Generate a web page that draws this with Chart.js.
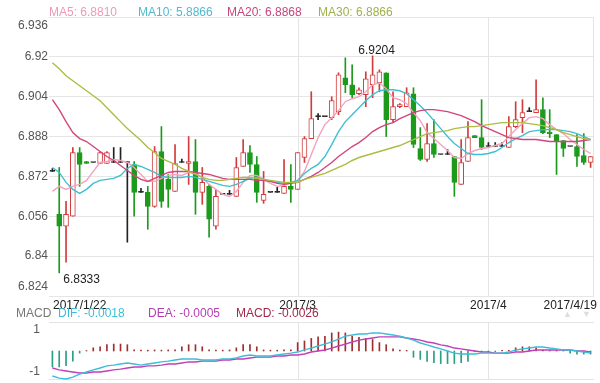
<!DOCTYPE html>
<html>
<head>
<meta charset="utf-8">
<title>K线 MA MACD</title>
<script src="https://cdn.jsdelivr.net/npm/chart.js@4"></script>
<style>
  body { margin: 0; background: #fff; font-family: "Liberation Sans", Arial, sans-serif; }
  #wrap { position: relative; width: 600px; height: 383px; overflow: hidden; background: #fff; }
  canvas { position: absolute; left: 0; }
  .lg { position: absolute; font-size: 12px; line-height: 14px; white-space: nowrap; }
</style>
</head>
<body>
<div id="wrap">
  <canvas id="kChart" width="600" height="312" style="top:0"></canvas>
  <canvas id="macdChart" width="600" height="71" style="top:312px"></canvas>

  <div class="lg" style="left:49px;top:5px;color:#ee9ab7">MA5: 6.8810</div>
  <div class="lg" style="left:138px;top:5px;color:#4fbad0">MA10: 5.8866</div>
  <div class="lg" style="left:227px;top:5px;color:#c8457e">MA20: 6.8868</div>
  <div class="lg" style="left:318px;top:5px;color:#9db24a">MA30: 6.8866</div>

  <div class="lg" style="left:16px;top:306px;color:#777">MACD</div>
  <div class="lg" style="left:58px;top:306px;color:#3dbcd6">DIF: -0.0018</div>
  <div class="lg" style="left:148px;top:306px;color:#b43eb0">DEA: -0.0005</div>
  <div class="lg" style="left:236px;top:306px;color:#a3284a">MACD: -0.0026</div>
  <div class="lg" style="left:563px;top:307px;color:#ddd;font-size:9px">▲</div>
  <div class="lg" style="left:582px;top:307px;color:#ddd;font-size:9px">▼</div>
</div>

<script>
const FONT = '"Liberation Sans", Arial, sans-serif';

// candles, one per day
const opens = [6.874,6.8568,6.852,6.856,6.8816,6.878,6.8776,6.8772,6.8772,6.8776,
  6.8776,6.8776,6.8768,6.8656,6.8656,6.86,6.882,6.8708,6.866,6.8776,
  6.8772,6.878,6.8656,6.868,6.852,6.8648,6.8648,6.864,6.876,6.8816,
  6.8768,6.8624,6.8656,6.8656,6.8652,6.868,6.8668,6.8796,6.8872,6.896,
  6.896,6.8956,6.898,6.9116,6.9088,6.9052,6.9048,6.9088,6.9096,6.9136,
  6.8948,6.9,6.9,6.9052,6.8832,6.8788,6.8852,6.8808,6.8808,6.88,
  6.8688,6.878,6.8884,6.8876,6.884,6.884,6.884,6.8836,6.892,6.8956,
  6.898,6.8976,6.8988,6.8898,6.8888,6.8864,6.884,6.884,6.8804,6.8776];
const highs = [6.8752,6.8756,6.862,6.8836,6.8836,6.878,6.8776,6.882,6.882,6.8836,
  6.8836,6.878,6.878,6.8672,6.868,6.884,6.892,6.8728,6.8848,6.879,
  6.888,6.8868,6.8756,6.8688,6.8668,6.8648,6.8664,6.8796,6.8868,6.8844,
  6.88,6.874,6.8656,6.8676,6.8788,6.8768,6.8816,6.888,6.906,6.8972,
  6.896,6.904,6.9136,6.9196,6.9168,6.9076,6.914,6.9204,6.9148,6.9136,
  6.906,6.9012,6.9076,6.9076,6.8916,6.8932,6.8948,6.8808,6.8828,6.88,
  6.8868,6.894,6.8884,6.9028,6.8856,6.8856,6.8856,6.896,6.902,6.9028,
  6.8996,6.9108,6.9036,6.8988,6.8888,6.8864,6.884,6.8888,6.8892,6.88];
const lows = [6.874,6.8333,6.8376,6.856,6.868,6.8772,6.8776,6.8772,6.8772,6.8776,
  6.8776,6.8456,6.856,6.8656,6.8508,6.8596,6.8596,6.8596,6.866,6.8776,
  6.8688,6.8568,6.8608,6.8476,6.8508,6.8648,6.8648,6.864,6.876,6.8736,
  6.8616,6.8612,6.8656,6.8656,6.8652,6.8616,6.8668,6.8776,6.8872,6.8948,
  6.896,6.8948,6.8968,6.9056,6.9036,6.9048,6.9,6.9036,6.906,6.888,
  6.8936,6.8996,6.9,6.8836,6.8784,6.878,6.8796,6.8808,6.8808,6.864,
  6.8688,6.878,6.8876,6.8828,6.884,6.884,6.884,6.8836,6.8916,6.8896,
  6.898,6.8976,6.8892,6.8876,6.8728,6.88,6.884,6.876,6.8768,6.8756];
const closes = [6.874,6.852,6.8568,6.8816,6.8768,6.8772,6.8776,6.8816,6.8816,6.8776,
  6.8776,6.8776,6.8656,6.8656,6.86,6.882,6.862,6.8668,6.8772,6.8776,
  6.878,6.8656,6.8696,6.8548,6.864,6.8648,6.8648,6.8756,6.8816,6.8768,
  6.8656,6.8648,6.8656,6.8656,6.868,6.8668,6.8816,6.8872,6.8952,6.896,
  6.896,6.9024,6.9128,6.9088,6.9048,6.9068,6.9112,6.9128,6.914,6.8948,
  6.9,6.9008,6.9056,6.8848,6.8788,6.8852,6.8808,6.8808,6.8808,6.8696,
  6.8776,6.8876,6.8876,6.8836,6.884,6.884,6.884,6.892,6.8948,6.8976,
  6.898,6.8988,6.8896,6.8892,6.886,6.8832,6.884,6.88,6.8776,6.88];

// moving averages
const ma5 = [6.866,6.868,6.8668,6.868,6.8688,6.8704,6.874,6.8776,6.878,6.8788,
  6.8784,6.8776,6.8756,6.8728,6.87,6.87,6.8712,6.8724,6.8728,6.8724,
  6.8736,6.8732,6.8716,6.8688,6.8668,6.8648,6.864,6.866,6.8696,6.8724,
  6.8724,6.8708,6.8692,6.868,6.8684,6.8696,6.8704,6.874,6.8808,6.8876,
  6.8928,6.8956,6.8984,6.902,6.9032,6.904,6.906,6.9088,6.9096,6.9072,
  6.9036,6.9028,6.9012,6.8976,6.8944,6.8896,6.8872,6.8848,6.8824,6.8796,
  6.8792,6.8812,6.8824,6.8832,6.8836,6.8844,6.8852,6.888,6.8908,6.8932,
  6.8956,6.896,6.8952,6.8928,6.8908,6.8892,6.8868,6.8848,6.8828,6.8812];
const ma10 = [6.8756,6.8736,6.8696,6.8668,6.8652,6.8668,6.8692,6.8704,6.8708,6.8712,
  6.8724,6.8752,6.8768,6.876,6.8748,6.8736,6.872,6.8716,6.8716,6.8716,
  6.872,6.8716,6.8708,6.87,6.8692,6.8684,6.868,6.8688,6.87,6.8712,
  6.8716,6.8708,6.87,6.8696,6.8692,6.8696,6.8704,6.8732,6.8752,6.8768,
  6.88,6.8848,6.89,6.894,6.8968,6.8996,6.9024,6.9048,6.9064,6.9068,
  6.9068,6.9064,6.9052,6.9028,6.9004,6.8976,6.8944,6.8912,6.888,6.8852,
  6.8832,6.8812,6.8808,6.8808,6.8812,6.882,6.8836,6.8856,6.8872,6.8884,
  6.89,6.8904,6.8908,6.8908,6.8908,6.8904,6.89,6.8892,6.888,6.8868];
const ma20 = [6.9028,6.8988,6.894,6.8896,6.8872,6.886,6.884,6.882,6.88,6.8784,
  6.8764,6.8744,6.8724,6.8708,6.87,6.8712,6.8724,6.8736,6.874,6.874,
  6.874,6.8736,6.8732,6.8728,6.872,6.8712,6.8708,6.8708,6.8708,6.8708,
  6.8704,6.8704,6.87,6.8692,6.8688,6.8692,6.8696,6.8708,6.872,6.8736,
  6.8756,6.8776,6.88,6.882,6.884,6.8856,6.8876,6.89,6.8916,6.8928,
  6.8936,6.8952,6.8964,6.8976,6.8984,6.8988,6.8988,6.8984,6.898,6.8972,
  6.8964,6.8952,6.894,6.8924,6.8912,6.89,6.8888,6.8876,6.8872,6.8868,
  6.8868,6.8868,6.8864,6.886,6.886,6.886,6.886,6.886,6.8864,6.8868];
const ma30 = [6.9176,6.9152,6.9124,6.9104,6.9084,6.9064,6.9044,6.9024,6.8996,6.8968,
  6.894,6.8912,6.8888,6.8864,6.8836,6.8816,6.8792,6.878,6.8768,6.8752,
  6.874,6.8728,6.8716,6.8708,6.8704,6.8704,6.8708,6.8712,6.8716,6.8716,
  6.8712,6.8708,6.8704,6.87,6.8696,6.8696,6.8696,6.8708,6.8716,6.8724,
  6.8732,6.8744,6.8756,6.8768,6.8784,6.8796,6.8804,6.8812,6.882,6.8828,
  6.8836,6.8844,6.8856,6.8868,6.888,6.8892,6.8896,6.89,6.8904,6.8912,
  6.8916,6.892,6.892,6.8924,6.8928,6.8932,6.8936,6.8936,6.8936,6.8936,
  6.8932,6.8928,6.8924,6.8916,6.8908,6.8896,6.8888,6.888,6.8872,6.8868];

// MACD panel (scaled units, as on the axis)
const dif = [-1.19,-1.29,-1.33,-1.24,-1.1,-1.0,-0.9,-0.81,-0.71,-0.67,
  -0.62,-0.57,-0.62,-0.67,-0.62,-0.57,-0.52,-0.48,-0.43,-0.38,
  -0.38,-0.38,-0.43,-0.43,-0.43,-0.38,-0.38,-0.33,-0.24,-0.19,
  -0.24,-0.24,-0.24,-0.19,-0.14,-0.1,-0.05,0.05,0.14,0.24,
  0.33,0.43,0.57,0.71,0.76,0.81,0.81,0.86,0.86,0.81,
  0.76,0.71,0.62,0.52,0.38,0.29,0.19,0.1,0,-0.1,
  -0.14,-0.14,-0.14,-0.1,-0.1,-0.1,-0.1,-0.05,0.05,0.1,
  0.14,0.19,0.19,0.14,0.1,0.05,0.05,0,-0.05,-0.1];
const dea = [-0.81,-0.9,-0.95,-1.0,-1.05,-1.05,-1.0,-1.0,-0.95,-0.9,
  -0.86,-0.81,-0.76,-0.76,-0.71,-0.71,-0.67,-0.62,-0.62,-0.57,
  -0.52,-0.52,-0.48,-0.48,-0.48,-0.43,-0.43,-0.38,-0.38,-0.33,
  -0.29,-0.29,-0.29,-0.24,-0.24,-0.19,-0.19,-0.14,-0.05,0,
  0.05,0.14,0.24,0.33,0.43,0.52,0.57,0.62,0.67,0.67,
  0.67,0.67,0.62,0.57,0.52,0.43,0.38,0.29,0.24,0.14,
  0.1,0.05,0,-0.05,-0.05,-0.1,-0.1,-0.1,-0.05,-0.05,
  0,0.05,0.05,0.05,0.05,0.05,0.05,0,0,-0.05];
const macd = [-0.76,-0.76,-0.7,-0.48,-0.1,0.02,0.15,0.2,0.3,0.33,
  0.33,0.3,0.05,0.04,0.04,0.05,0.04,0.05,0.05,0.2,
  0.3,0.3,0.2,0.05,0.04,0.04,0.05,0.15,0.3,0.3,
  0.2,0.05,0.04,0.04,0.05,0.05,0.4,0.48,0.6,0.67,
  0.7,0.86,0.9,0.86,0.7,0.65,0.6,0.55,0.4,0.3,
  0.1,0.04,0.03,-0.3,-0.4,-0.5,-0.55,-0.6,-0.6,-0.6,
  -0.55,-0.5,-0.04,-0.04,-0.03,-0.03,0.03,0.03,0.15,0.2,
  0.2,0.15,0.04,0.03,0.03,0.02,-0.1,-0.15,-0.15,-0.15];

// axes
const tickIdx = [4, 36, 64, 76];
const tickText = ['2017/1/22', '2017/3', '2017/4', '2017/4/19'];
const gridIdx = [36, 64];
const yTicks = [6.824, 6.84, 6.856, 6.872, 6.888, 6.904, 6.92, 6.936];
const yTickText = ['6.824', '6.84', '6.056', '6.872', '6.888', '6.904', '6.92', '6.936'];
const macdTicks = [-1, 1];
const macdTickText = ['-1', '1'];

const RED = '#d23c3c', GREEN = '#1c9a1c', DOJI = '#222';
const days = opens.map((o, i) => String(i));
const candleColor = opens.map((o, i) => closes[i] > o ? RED : (closes[i] < o ? GREEN : DOJI));
const bodyFill = opens.map((o, i) => closes[i] > o ? '#fff' : candleColor[i]);
const bodies = opens.map((o, i) => [Math.min(o, closes[i]), Math.max(o, closes[i])]);
const wicks = lows.map((l, i) => [l, highs[i]]);

// light frame lines: vertical month lines, borders
const frame = {
  id: 'frame',
  beforeDatasetsDraw(chart, args, opts) {
    const { ctx, chartArea: a, scales: { x } } = chart;
    ctx.save();
    ctx.strokeStyle = '#e4e4e4';
    ctx.lineWidth = 1;
    ctx.beginPath();
    gridIdx.forEach(i => {
      const px = Math.round(x.getPixelForValue(i)) + 0.5;
      ctx.moveTo(px, a.top);
      ctx.lineTo(px, a.bottom);
    });
    if (opts.right) {
      const px = Math.round(a.right) - 0.5;
      ctx.moveTo(px, a.top);
      ctx.lineTo(px, a.bottom);
    }
    if (opts.box) {
      ctx.moveTo(a.left, Math.round(a.top) + 0.5);
      ctx.lineTo(a.right, Math.round(a.top) + 0.5);
      ctx.moveTo(a.left, Math.round(a.bottom) - 0.5);
      ctx.lineTo(a.right, Math.round(a.bottom) - 0.5);
    }
    ctx.stroke();
    ctx.restore();
  }
};

// max / min price notes
const peakLabels = {
  id: 'peakLabels',
  afterDatasetsDraw(chart) {
    const { ctx, scales: { x, y } } = chart;
    const hi = highs.indexOf(Math.max(...highs));
    const lo = lows.indexOf(Math.min(...lows));
    ctx.save();
    ctx.font = '12px ' + FONT;
    ctx.fillStyle = '#222';
    ctx.textBaseline = 'alphabetic';
    ctx.textAlign = 'center';
    ctx.fillText(highs[hi].toFixed(4), x.getPixelForValue(hi) + 4, y.getPixelForValue(highs[hi]) - 2);
    ctx.textAlign = 'left';
    ctx.fillText(lows[lo].toFixed(4), x.getPixelForValue(lo) + 4, y.getPixelForValue(lows[lo]) + 10);
    ctx.restore();
  }
};

function maLine(data, color) {
  return { type: 'line', data: data, borderColor: color, borderWidth: 1.4, pointRadius: 0, tension: 0, order: 0 };
}

new Chart(document.getElementById('kChart'), {
  type: 'bar',
  data: {
    labels: days,
    datasets: [
      maLine(ma30, '#abbd43'),
      maLine(ma20, '#d2457c'),
      maLine(ma10, '#40bfd2'),
      maLine(ma5, '#f2a3bd'),
      { data: bodies, backgroundColor: bodyFill, borderColor: candleColor, borderWidth: 1,
        borderSkipped: false, barThickness: 5, minBarLength: 1, grouped: false, order: 1 },
      { data: wicks, backgroundColor: candleColor, barThickness: 1, grouped: false, order: 2 }
    ]
  },
  options: {
    responsive: false,
    animation: false,
    events: [],
    layout: { padding: { top: 17, right: 6, left: 0, bottom: 0 } },
    plugins: { legend: { display: false }, tooltip: { enabled: false }, frame: { right: true } },
    scales: {
      x: {
        grid: { display: false },
        border: { display: false },
        afterBuildTicks: s => { s.ticks = tickIdx.map(v => ({ value: v })); },
        afterFit: s => { s.height = 16; s.paddingLeft = 0; s.paddingRight = 0; },
        ticks: { autoSkip: false, maxRotation: 0, minRotation: 0, padding: -6, color: '#222',
          font: { family: FONT, size: 12 }, callback: (v, i) => tickText[i] }
      },
      y: {
        min: 6.824,
        max: 6.936,
        grid: { color: '#e6e6e6', drawTicks: false },
        border: { display: false },
        afterBuildTicks: s => { s.ticks = yTicks.map(v => ({ value: v })); },
        afterFit: s => { s.width = 49; s.paddingTop = 0; s.paddingBottom = 0; },
        ticks: {
          padding: 1, color: '#555', font: { family: FONT, size: 12, lineHeight: 1.5 },
          callback: (v, i) => i === 0 ? [yTickText[0], ''] : (i === yTicks.length - 1 ? ['', yTickText[i]] : yTickText[i])
        }
      }
    }
  },
  plugins: [frame, peakLabels]
});

new Chart(document.getElementById('macdChart'), {
  type: 'bar',
  data: {
    labels: days,
    datasets: [
      { type: 'line', data: dif, borderColor: '#3dbdd8', borderWidth: 1.4, pointRadius: 0, order: 0 },
      { type: 'line', data: dea, borderColor: '#c23fb6', borderWidth: 1.4, pointRadius: 0, order: 0 },
      { data: macd, backgroundColor: macd.map(v => v >= 0 ? '#9e2f2f' : '#2c9d86'), barThickness: 1, order: 1 }
    ]
  },
  options: {
    responsive: false,
    animation: false,
    events: [],
    layout: { padding: { top: 10, right: 6, left: 0, bottom: 3 } },
    plugins: { legend: { display: false }, tooltip: { enabled: false }, frame: { box: true } },
    scales: {
      x: { display: false },
      y: {
        min: -1.38,
        max: 1.38,
        grid: { display: false },
        border: { display: false },
        afterBuildTicks: s => { s.ticks = macdTicks.map(v => ({ value: v })); },
        afterFit: s => { s.width = 49; s.paddingTop = 0; s.paddingBottom = 0; },
        ticks: { padding: 1, color: '#555', font: { family: FONT, size: 12 }, callback: (v, i) => macdTickText[i] }
      }
    }
  },
  plugins: [frame]
});
</script>
</body>
</html>
